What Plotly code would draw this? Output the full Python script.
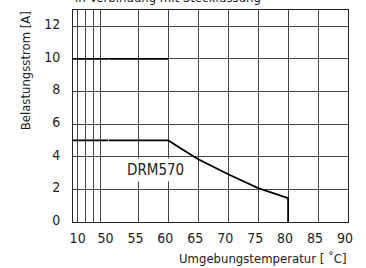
import plotly.graph_objects as go

# ---- data ----
temp_upper = [0, 50, 60]
current_upper = [10, 10, 10]

temp_drm570 = [0, 50, 60, 62.5, 65, 70, 75, 80, 80]
current_drm570 = [5, 5, 5, 4.42, 3.85, 2.93, 2.08, 1.46, 0]

x_left_ticks = [10, 20, 30, 40, 50]
x_left_labels = ["10", "", "", "", ""]
x_right_ticks = [50, 55, 60, 65, 70, 75, 80, 85, 90]
x_right_labels = ["50", "55", "60", "65", "70", "75", "80", "85", "90"]
y_ticks = [0, 2, 4, 6, 8, 10, 12]
y_labels = ["0", "2", "4", "6", "8", "10", "12"]

BREAK = 50
FONT = "DejaVu Sans Condensed, Liberation Sans Narrow, Roboto, sans-serif"
GRID = "#444444"
TXT = "#222222"


def split(t, v):
    left = [(a, b) for a, b in zip(t, v) if a <= BREAK]
    right = [(a, b) for a, b in zip(t, v) if a >= BREAK]
    return left, right


fig = go.Figure()
for t, v in [(temp_upper, current_upper), (temp_drm570, current_drm570)]:
    left, right = split(t, v)
    fig.add_trace(go.Scatter(x=[p[0] for p in left], y=[p[1] for p in left],
                             xaxis="x", yaxis="y", mode="lines",
                             line=dict(color="black", width=1.8), hoverinfo="skip"))
    fig.add_trace(go.Scatter(x=[p[0] for p in right], y=[p[1] for p in right],
                             xaxis="x2", yaxis="y2", mode="lines",
                             line=dict(color="black", width=1.8), hoverinfo="skip"))

D = 0.129
base = dict(showgrid=True, gridcolor=GRID, gridwidth=1, ticks="",
            zeroline=False, linecolor="#222222", linewidth=1,
            tickfont=dict(family=FONT, size=14, color=TXT))

fig.update_layout(
    width=366, height=268,
    margin=dict(l=73, r=18, t=10, b=46),
    paper_bgcolor="white", plot_bgcolor="white",
    showlegend=False,
    font=dict(family=FONT, color=TXT),
    xaxis=dict(domain=[0, D], range=[4, BREAK], tickmode="array",
               tickvals=x_left_ticks, ticktext=x_left_labels, anchor="y",
               showline=True, mirror=True, ticklabelstandoff=3, **base),
    xaxis2=dict(domain=[D, 1], range=[BREAK, 90], tickmode="array",
                tickvals=x_right_ticks, ticktext=x_right_labels, anchor="y2",
                showline=True, mirror=True, ticklabelstandoff=3, ticklabelshift=-3, **base),
    yaxis=dict(range=[0, 13], tickmode="array", tickvals=y_ticks, ticktext=y_labels,
               anchor="x", showline=True, mirror=False, ticklabelstandoff=9,
               ticklabelshift=-2, **base),
    yaxis2=dict(range=[0, 13], tickmode="array", tickvals=y_ticks, showticklabels=False,
                anchor="x2", matches="y", side="right", showline=True, mirror=False, **base),
)

fig.add_annotation(text="DRM570", xref="x2", yref="y2", x=57.9, y=3.2,
                   showarrow=False, bgcolor="white", borderpad=2,
                   font=dict(family=FONT, size=15, color=TXT))
fig.add_annotation(text="Belastungsstrom [A]", xref="paper", yref="paper",
                   x=-0.173, y=0.7127, textangle=-90, showarrow=False,
                   xanchor="center", yanchor="middle",
                   font=dict(family=FONT, size=13, color=TXT))
fig.add_annotation(text="Umgebungstemperatur [ ˚C]", xref="paper", yref="paper",
                   x=1.005, y=-0.173, xanchor="right", yanchor="middle", showarrow=False,
                   font=dict(family=FONT, size=13, color=TXT))
fig.add_annotation(text="in Verbindung mit Steckfassung", xref="paper", yref="paper",
                   x=0, y=1.061, xanchor="left", yanchor="middle", showarrow=False,
                   font=dict(family=FONT, size=13, color=TXT))

fig.write_html("out.html", config={"displayModeBar": False},
               post_script="document.body.style.margin='0';")
